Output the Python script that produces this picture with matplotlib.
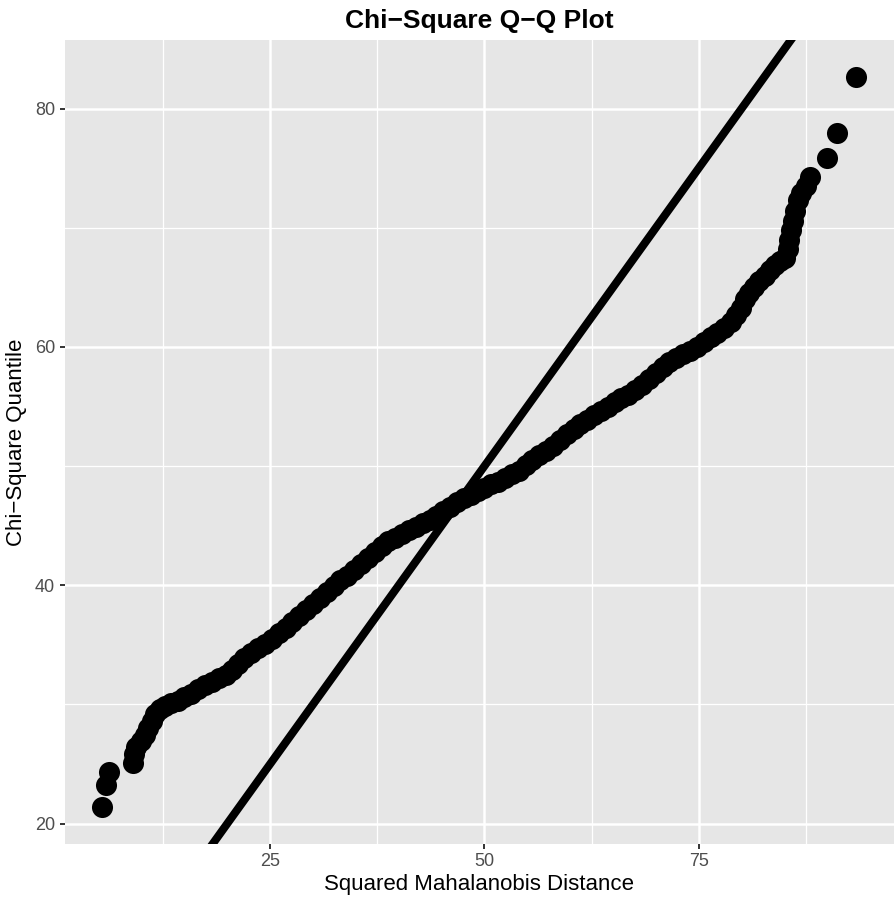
import matplotlib
matplotlib.use("Agg")
import matplotlib.pyplot as plt
import numpy as np

# Data (sorted squared Mahalanobis distance vs chi-square quantile)
mahal_dist = [5.4, 5.9, 6.2,
              9.0, 9.1, 9.4, 9.9, 10.4, 10.8, 11.2, 11.6, 12.1, 12.7, 13.4, 14.2, 15.0, 15.8,
              16.6, 17.4, 18.2, 19.0, 19.8, 20.6, 21.3, 22.0, 22.8, 23.6, 24.4, 25.2, 26.0,
              26.8, 27.6, 28.4, 29.2, 30.0, 30.8, 31.6, 32.4, 33.2, 34.0, 34.8, 35.6, 36.4,
              37.2, 38.0, 38.8, 39.6, 40.4, 41.2, 42.0, 42.8, 43.6, 44.4, 45.2, 46.0, 46.8,
              47.6, 48.4, 49.2, 50.0, 50.8, 51.6, 52.4, 53.2, 54.0, 54.8, 55.6, 56.4, 57.2,
              58.0, 58.8, 59.6, 60.4, 61.2, 62.0, 62.8, 63.6, 64.4, 65.2, 66.0, 66.8, 67.6,
              68.4, 69.2, 70.0, 70.8, 71.6, 72.4, 73.2, 74.0, 74.8, 75.6, 76.4, 77.2, 78.0,
              78.8, 79.4, 79.9, 80.4, 80.9, 81.5, 82.1, 82.7, 83.3, 83.9, 84.5, 85.1, 85.4,
              85.6, 85.8, 86.0, 86.3, 86.6, 87.0, 87.5, 88.0,
              90.0, 91.2, 93.4]
chisq_quant = [21.35, 23.2, 24.3,
               25.1, 25.8, 26.4, 26.9, 27.4, 28.0, 28.6, 29.2, 29.6, 29.9, 30.1, 30.3, 30.6, 30.9,
               31.3, 31.6, 31.9, 32.2, 32.5, 32.9, 33.4, 33.9, 34.3, 34.7, 35.1, 35.5, 36.0,
               36.4, 36.9, 37.4, 37.9, 38.4, 38.9, 39.4, 39.9, 40.4, 40.8, 41.3, 41.8, 42.3,
               42.8, 43.3, 43.7, 44.0, 44.3, 44.6, 44.9, 45.2, 45.5, 45.8, 46.2, 46.6, 47.0,
               47.3, 47.6, 47.9, 48.2, 48.5, 48.7, 49.0, 49.3, 49.6, 50.1, 50.5, 50.9, 51.3,
               51.7, 52.2, 52.7, 53.1, 53.5, 53.9, 54.3, 54.6, 55.0, 55.4, 55.7, 56.0, 56.4,
               56.8, 57.3, 57.8, 58.3, 58.7, 59.1, 59.4, 59.7, 60.0, 60.4, 60.8, 61.2, 61.6,
               62.1, 62.7, 63.3, 64.0, 64.5, 65.0, 65.5, 66.0, 66.5, 66.9, 67.2, 67.5, 68.2,
               69.0, 69.8, 70.6, 71.4, 72.3, 72.9, 73.5, 74.3,
               75.9, 78.0, 82.7]
ref_intercept = 0.0
ref_slope = 1.0

x_ticks = [25, 50, 75]
x_minor = [12.5, 37.5, 62.5, 87.5]
y_ticks = [20, 40, 60, 80]
y_minor = [30, 50, 70]

plt.rcParams['font.family'] = ['Liberation Sans', 'DejaVu Sans']

W, H = 896, 900
fig = plt.figure(figsize=(W / 100, H / 100), dpi=100)
L, R, T, B = 64.5, 894, 40, 844
ax = fig.add_axes([L / W, 1 - B / H, (R - L) / W, (B - T) / H])
ax.set_facecolor('#E6E6E6')
for s in ax.spines.values():
    s.set_visible(False)

xd = np.array(mahal_dist)
yd = np.array(chisq_quant)
xr = xd.max() - xd.min()
yr = yd.max() - yd.min()
ax.set_xlim(xd.min() - 0.05 * xr, xd.max() + 0.05 * xr)
ax.set_ylim(yd.min() - 0.05 * yr, yd.max() + 0.05 * yr)

ax.set_xticks(x_ticks)
ax.set_yticks(y_ticks)
ax.set_xticks(x_minor, minor=True)
ax.set_yticks(y_minor, minor=True)
ax.grid(True, which='major', color='white', linewidth=1.8, zorder=0)
ax.grid(True, which='minor', color='white', linewidth=0.9, zorder=0)
ax.set_axisbelow(True)
ax.tick_params(which='major', length=3.8, width=1.4, color='#333333',
               labelsize=13, labelcolor='#4D4D4D', pad=3)
ax.tick_params(which='minor', length=0)

ax.scatter(xd, yd, s=230, c='black', linewidths=0, zorder=3)
ax.axline((0, ref_intercept), slope=ref_slope, color='black', linewidth=5.8, zorder=4)

cx = (L + R) / 2 / W
fig.text(cx, 1 - 28 / H, 'Chi\u2212Square Q\u2212Q Plot', ha='center', va='baseline',
         fontsize=19, fontweight='bold', color='black')
fig.text(cx, 1 - 890 / H, 'Squared Mahalanobis Distance', ha='center', va='baseline',
         fontsize=16, color='black')
fig.text(16.5 / W, 1 - ((T + B) / 2) / H, 'Chi\u2212Square Quantile', ha='center', va='center',
         rotation=90, fontsize=16, color='black')

fig.savefig('out.png', dpi=100)
